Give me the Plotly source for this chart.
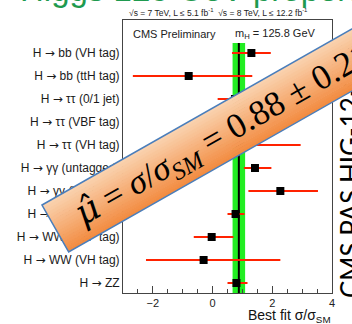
import math
import plotly.graph_objects as go

W, H = 352, 324

# ---------------- data ----------------
ARROW = "<span style='font-family:DejaVu Sans'>\u2192</span>"
channels = [
    "H " + ARROW + " bb (VH tag)",
    "H " + ARROW + " bb (ttH tag)",
    "H " + ARROW + " \u03c4\u03c4 (0/1 jet)",
    "H " + ARROW + " \u03c4\u03c4 (VBF tag)",
    "H " + ARROW + " \u03c4\u03c4 (VH tag)",
    "H " + ARROW + " \u03b3\u03b3 (untagged)",
    "H " + ARROW + " \u03b3\u03b3 (VBF tag)",
    "H " + ARROW + " WW (0/1 jet)",
    "H " + ARROW + " WW (VBF tag)",
    "H " + ARROW + " WW (VH tag)",
    "H " + ARROW + " ZZ",
]
mu_best = [1.30, -0.80, 0.75, 1.40, 0.90, 1.42, 2.27, 0.77, -0.03, -0.30, 0.80]
mu_low = [0.65, -2.67, 0.17, 0.70, -0.90, 1.05, 1.20, 0.50, -0.63, -2.23, 0.50]
mu_high = [1.95, 1.33, 1.45, 2.20, 2.95, 1.97, 3.53, 1.07, 0.70, 2.27, 1.17]

combined_mu = 0.88
combined_err = 0.21

x_ticks = [-2, 0, 2, 4]

banner_text = ("<span style='font-family:DejaVu Serif'><i>\u03bc\u0302</i></span> = "
               "<i>\u03c3</i>/<i>\u03c3</i><sub><i>SM</i></sub> = 0.88 \u00b1 0.21")


# ---------------- helpers ----------------
def px(x):
    return x / W


def py(y):
    return 1 - y / H


FRAME_TOP, FRAME_BOT = 20, 293
band_top = (FRAME_BOT - 43) / (FRAME_BOT - FRAME_TOP)

fig = go.Figure()

# combined band and line
fig.add_shape(type="rect", xref="x", yref="y domain",
              x0=combined_mu - combined_err, x1=combined_mu + combined_err,
              y0=0, y1=band_top, fillcolor="#22ee22", line_width=0, layer="below")
fig.add_shape(type="line", xref="x", yref="y domain",
              x0=combined_mu, x1=combined_mu, y0=0, y1=band_top,
              line=dict(color="black", width=2), layer="below")

fig.add_trace(go.Scatter(
    x=mu_best, y=channels, mode="markers",
    marker=dict(symbol="square", size=8, color="black", line_width=0),
    error_x=dict(type="data", symmetric=False,
                 array=[h - v for h, v in zip(mu_high, mu_best)],
                 arrayminus=[v - l for l, v in zip(mu_low, mu_best)],
                 color="#ff2200", thickness=2, width=0),
    showlegend=False, hoverinfo="skip",
))

# dummy trace for the right-side rotated label axis
fig.add_trace(go.Scatter(x=[None], y=[None], yaxis="y2", showlegend=False,
                         hoverinfo="skip", mode="markers"))

# ---------------- banner ----------------
theta = math.radians(29.6)
ux, uy = math.cos(theta), -math.sin(theta)
vx, vy = math.sin(theta), math.cos(theta)
Ax, Ay = 42.0, 205.0
wid = 54.0
L = 440.0
N = 18
c_top = (250, 212, 178)
c_bot = (242, 138, 62)
for i in range(N):
    s0 = wid * i / N
    s1 = min(wid * (i + 1) / N + 0.6, wid)
    f = (i + 0.5) / N
    col = "rgb(%d,%d,%d)" % tuple(round(a + (b - a) * f) for a, b in zip(c_top, c_bot))
    pts = [
        (Ax + vx * s0, Ay + vy * s0),
        (Ax + vx * s0 + ux * L, Ay + vy * s0 + uy * L),
        (Ax + vx * s1 + ux * L, Ay + vy * s1 + uy * L),
        (Ax + vx * s1, Ay + vy * s1),
    ]
    path = "M " + " L ".join("%.5f,%.5f" % (px(a), py(b)) for a, b in pts) + " Z"
    fig.add_shape(type="path", xref="paper", yref="paper", path=path,
                  fillcolor=col, line_width=0, layer="above")

pts = [
    (Ax, Ay),
    (Ax + ux * L, Ay + uy * L),
    (Ax + vx * wid + ux * L, Ay + vy * wid + uy * L),
    (Ax + vx * wid, Ay + vy * wid),
]
path = "M " + " L ".join("%.5f,%.5f" % (px(a), py(b)) for a, b in pts) + " Z"
fig.add_shape(type="path", xref="paper", yref="paper", path=path,
              fillcolor="rgba(0,0,0,0)", line=dict(color="#4a7ebb", width=1.5),
              layer="above")

mx, my = Ax + vx * (wid / 2 + 1) + ux * 192, Ay + vy * (wid / 2 + 1) + uy * 192
fig.add_annotation(x=px(mx), y=py(my), xref="paper", yref="paper",
                   text=banner_text, showarrow=False, textangle=-29.6,
                   xanchor="center", yanchor="middle",
                   font=dict(family="Liberation Serif", size=35, color="black"))

# ---------------- texts ----------------
fig.add_annotation(x=px(18), y=py(10), xref="paper", yref="paper",
                   text="Higgs 125 GeV properties", showarrow=False,
                   xanchor="left", yanchor="bottom",
                   font=dict(family="Liberation Sans", size=33, color="#1f9a4f"))
fig.add_annotation(x=px(127), y=py(13), xref="paper", yref="paper",
                   text="\u221as = 7 TeV, L \u2264 5.1 fb<sup>-1</sup>  \u221as = 8 TeV, L \u2264 12.2 fb<sup>-1</sup>",
                   showarrow=False, xanchor="left", yanchor="middle",
                   font=dict(family="Liberation Sans", size=8.5, color="#222"))
fig.add_annotation(x=px(131), y=py(34), xref="paper", yref="paper",
                   text="CMS Preliminary", showarrow=False,
                   xanchor="left", yanchor="middle",
                   font=dict(family="Liberation Sans", size=11, color="#222"))
fig.add_annotation(x=px(233), y=py(34), xref="paper", yref="paper",
                   text="m<sub>H</sub> = 125.8 GeV", showarrow=False,
                   xanchor="left", yanchor="middle",
                   font=dict(family="Liberation Sans", size=11, color="#222"))
fig.add_annotation(x=px(333), y=py(316), xref="paper", yref="paper",
                   text="Best fit \u03c3/\u03c3<sub>SM</sub>", showarrow=False,
                   xanchor="right", yanchor="middle",
                   font=dict(family="Liberation Sans", size=14, color="#111"))

fig.update_layout(
    width=W, height=H,
    margin=dict(l=0, r=0, t=0, b=0),
    paper_bgcolor="white", plot_bgcolor="white",
    xaxis=dict(domain=[px(123), px(332)], range=[-3, 4], tickvals=x_ticks,
               ticks="inside", ticklen=7, tickcolor="#444",
               minor=dict(dtick=0.5, tick0=0, ticks="inside", ticklen=4, tickcolor="#444"),
               showgrid=False, zeroline=False, showline=True, linecolor="#444",
               linewidth=1, mirror=True, automargin=False,
               tickfont=dict(family="Liberation Sans", size=11, color="#222")),
    yaxis=dict(domain=[py(FRAME_BOT), py(FRAME_TOP)], type="category",
               categoryorder="array", categoryarray=channels,
               range=[10.435, -1.435], ticks="", showgrid=False, zeroline=False,
               showline=True, linecolor="#444", linewidth=1, mirror=True,
               automargin=False, ticklabelstandoff=0,
               tickfont=dict(family="Liberation Sans", size=12, color="#1a1a1a")),
    yaxis2=dict(overlaying="y", side="right", anchor="free", position=px(333),
                range=[FRAME_BOT, FRAME_TOP], tickvals=[174], ticktext=["CMS PAS HIG-12-045"],
                tickangle=-90, ticks="", showgrid=False, zeroline=False,
                showline=False, automargin=False,
                tickfont=dict(family="Lato", size=26, color="black")),
)

fig.write_html("out.html")
